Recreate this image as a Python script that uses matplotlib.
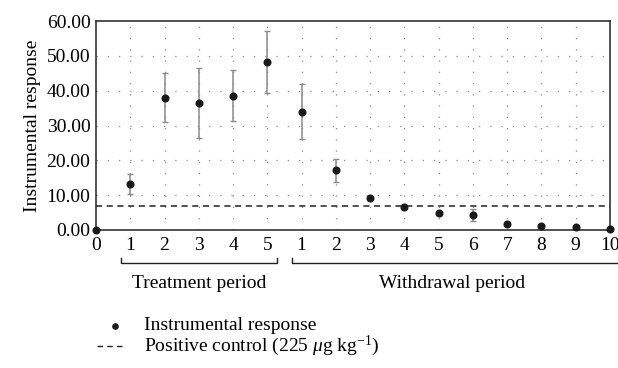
import matplotlib.pyplot as plt
from matplotlib.lines import Line2D

plt.rcParams['font.family'] = ['Liberation Serif', 'DejaVu Serif']
plt.rcParams['mathtext.fontset'] = 'custom'
plt.rcParams['mathtext.rm'] = 'Liberation Serif'
plt.rcParams['mathtext.it'] = 'Liberation Serif:italic'

# data
tick_labels = ['0', '1', '2', '3', '4', '5', '1', '2', '3', '4', '5', '6', '7', '8', '9', '10']
response = [0.0, 13.2, 38.0, 36.5, 38.6, 48.2, 34.0, 17.1, 9.3, 6.6, 4.8, 4.3, 1.6, 1.2, 0.9, 0.4]
error = [0.0, 2.8, 7.0, 10.0, 7.2, 9.0, 7.8, 3.2, 0.6, 0.6, 0.6, 1.8, 0.0, 0.0, 0.0, 0.0]
positive_control = 7.0
yticks = [0, 10, 20, 30, 40, 50, 60]
periods = [('Treatment period', 1, 5), ('Withdrawal period', 6, 15)]

FS = 14

fig = plt.figure(figsize=(6.18, 3.68), dpi=100)
ax = fig.add_axes([96 / 618, 1 - 230 / 368, 514 / 618, 209 / 368])

x = list(range(len(response)))

# grid
for xi in x[1:-1]:
    ax.axvline(xi, color='#888888', lw=0.9, ls=(0, (1, 8)), zorder=0)
for yi in yticks[1:-1]:
    ax.axhline(yi, color='#888888', lw=0.9, ls=(0, (1, 8)), zorder=0)

ax.errorbar(x, response, yerr=error, fmt='none', ecolor='#8a8a8a', elinewidth=1.1,
            capsize=2.5, capthick=1.0, zorder=2)
ax.plot(x, response, 'o', color='#1a1a1a', ms=4.8, clip_on=False, zorder=3)
ax.axhline(positive_control, color='#222222', lw=1.1, ls=(0, (4, 3)), zorder=2)

ax.set_xlim(0, 15)
ax.set_ylim(0, 60)
ax.set_xticks(x)
ax.set_xticklabels(tick_labels, fontsize=FS)
ax.set_yticks(yticks)
ax.set_yticklabels([f'{v:.2f}' for v in yticks], fontsize=FS)
ax.tick_params(axis='y', length=0, pad=4)
ax.tick_params(axis='x', length=0, pad=5)
ax.set_ylabel('Instrumental response', fontsize=FS, labelpad=4)
for s in ax.spines.values():
    s.set_color('#222222')
    s.set_linewidth(1.1)

# period brackets below the axis
tr = ax.get_xaxis_transform()
for label, a, b in periods:
    xa = a - 0.27
    xb = min(b + 0.27, 15.3)
    ax.plot([xa, xa, xb, xb], [-0.135, -0.16, -0.16, -0.135], color='#222222', lw=1.0,
            transform=tr, clip_on=False)
    ax.text((a + b) / 2 if b < 15 else 10.4, -0.255, label, transform=tr, ha='center',
            va='center', fontsize=FS)

# legend
fig.add_artist(Line2D([115 / 618], [1 - 326 / 368], marker='o', color='#1a1a1a', ms=3.8,
                      transform=fig.transFigure))
fig.text(144 / 618, 1 - 326 / 368, 'Instrumental response', fontsize=FS, va='center')
fig.add_artist(Line2D([97 / 618, 123 / 618], [1 - 346 / 368] * 2, color='#222222', lw=1.0,
                      ls=(0, (4, 3)), transform=fig.transFigure))
fig.text(144 / 618, 1 - 346 / 368, r'Positive control (225 $\mathit{\mu}$g kg$^{-1}$)',
         fontsize=FS, va='center')

fig.savefig('out.png', dpi=100)
